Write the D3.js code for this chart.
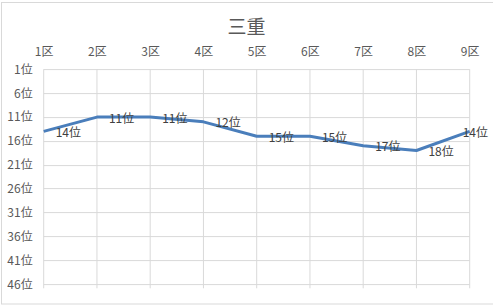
<!DOCTYPE html>
<html>
<head>
<meta charset="utf-8">
<script src="https://cdn.jsdelivr.net/npm/d3@7"></script>
<style>
  html, body { margin: 0; padding: 0; background: #fff; }
  svg { display: block; }
  text { font-family: "Noto Sans CJK JP", "Noto Sans", sans-serif; }
</style>
</head>
<body>
<svg id="chart" width="493" height="305"></svg>
<script>
// District names along the top axis
const districts = ["1区", "2区", "3区", "4区", "5区", "6区", "7区", "8区", "9区"];
// Ranking in each district (1 = best)
const ranks = [14, 11, 11, 12, 15, 15, 17, 18, 14];
// Rank values shown on the vertical axis
const rankTicks = [1, 6, 11, 16, 21, 26, 31, 36, 41, 46];
const chartTitle = "三重";

const W = 493, H = 305;
const margin = { top: 69.3, left: 43.7, right: 23.3, bottom: 20.7 };
const plotW = W - margin.left - margin.right;
const plotH = H - margin.top - margin.bottom;

const svg = d3.select("#chart");

// outer frame (right side runs off the canvas)
svg.append("rect")
  .attr("x", 1.5).attr("y", 2.5)
  .attr("width", W + 10).attr("height", 301.5)
  .attr("fill", "#fff")
  .attr("stroke", "#d9d9d9").attr("stroke-width", 1);

svg.append("text")
  .attr("x", 246.5).attr("y", 25)
  .attr("text-anchor", "middle")
  .attr("dominant-baseline", "central")
  .attr("font-size", 19)
  .attr("fill", "#595959")
  .text(chartTitle);

const g = svg.append("g").attr("transform", `translate(${margin.left},${margin.top})`);

const x = d3.scalePoint().domain(districts).range([0, plotW]);
const y = d3.scaleLinear().domain([1, 46]).range([0, plotH]);

// horizontal gridlines
g.append("g").selectAll("line").data(rankTicks).join("line")
  .attr("x1", 0).attr("x2", plotW)
  .attr("y1", d => Math.round(y(d)) + 0.5 - 0.2)
  .attr("y2", d => Math.round(y(d)) + 0.5 - 0.2)
  .attr("stroke", "#d9d9d9").attr("stroke-width", 1);

// vertical gridlines, running a little past the bottom
g.append("g").selectAll("line").data(districts).join("line")
  .attr("x1", d => x(d)).attr("x2", d => x(d))
  .attr("y1", 0).attr("y2", plotH + 4)
  .attr("stroke", "#d9d9d9").attr("stroke-width", 1);

// top category axis
const xAxis = g.append("g")
  .call(d3.axisTop(x).tickSize(0).tickPadding(13));
xAxis.select(".domain").remove();
xAxis.selectAll("text")
  .attr("font-size", 12)
  .attr("fill", "#595959")
  .attr("font-family", "\"Noto Sans CJK JP\", sans-serif");

// left rank axis
const yAxis = g.append("g")
  .call(d3.axisLeft(y).tickValues(rankTicks).tickSize(0).tickPadding(11)
    .tickFormat(d => d + "位"));
yAxis.select(".domain").remove();
yAxis.selectAll("text")
  .attr("font-size", 12)
  .attr("fill", "#595959")
  .attr("font-family", "\"Noto Sans CJK JP\", sans-serif");

// rank line
const line = d3.line()
  .x((d, i) => x(districts[i]))
  .y(d => y(d));

g.append("path")
  .datum(ranks)
  .attr("d", line)
  .attr("fill", "none")
  .attr("stroke", "#4a7ebb")
  .attr("stroke-width", 3)
  .attr("stroke-linejoin", "round");

// value labels to the right of each point, kept inside the frame
const labels = g.append("g").selectAll("text").data(ranks).join("text")
  .attr("x", (d, i) => x(districts[i]) + 12)
  .attr("y", d => y(d))
  .attr("dominant-baseline", "central")
  .attr("font-size", 12)
  .attr("fill", "#404040")
  .text(d => d + "位");

labels.each(function () {
  const el = d3.select(this);
  const bb = this.getBBox();
  const maxRight = 488 - margin.left;
  if (bb.x + bb.width > maxRight) {
    el.attr("x", +el.attr("x") - (bb.x + bb.width - maxRight));
  }
});
</script>
</body>
</html>
